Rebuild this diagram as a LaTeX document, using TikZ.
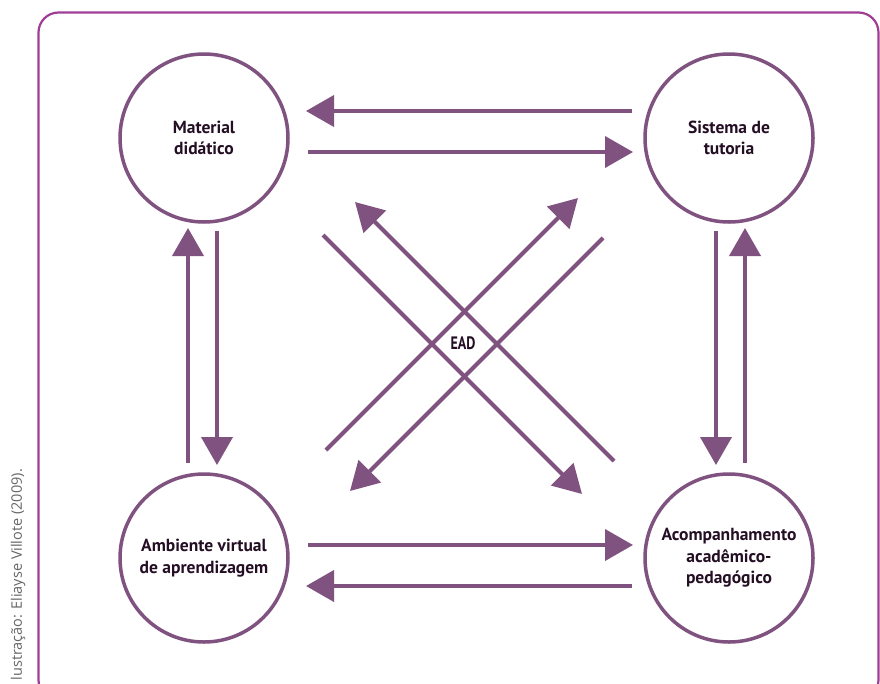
\documentclass[tikz,border=0pt]{standalone}
\usepackage{fontspec}
\setmainfont{PT Sans}
\newfontfamily\credfont{Open Sans}
\usetikzlibrary{arrows.meta}
\definecolor{purp}{RGB}{128,82,128}
\definecolor{framec}{RGB}{160,62,150}
\definecolor{txt}{RGB}{36,14,36}
\tikzset{
  hub/.style={circle, draw=purp, line width=3.5pt, minimum size=168pt, inner sep=0pt,
    align=center, text=txt, font=\bfseries\fontsize{17.5}{21.5}\selectfont},
  arr/.style={draw=purp, line width=4pt, -{Triangle[length=28pt,width=31pt]}, color=purp},
  credit/.style={text=black!60, font=\credfont\fontsize{14.5}{16}\selectfont, rotate=90, anchor=west},
}
\begin{document}
\begin{tikzpicture}[x=1pt,y=-1pt]
\useasboundingbox (0,0) rectangle (880,683);
\fill[white] (0,0) rectangle (880,683);
\draw[framec, line width=2.2pt, rounded corners=20pt] (38.5,12.5) rectangle (878.5,700);
\node[credit] (cred) at (18,684) {lustração: Eliayse Villote (2009).};

\node[hub] (md) at (204,138) {Material\\didático};
\node[hub] (st) at (729,138) {Sistema de\\tutoria};
\node[hub] (av) at (204,558) {Ambiente virtual\\de aprendizagem};
\node[hub] (ac) at (729,558) {Acompanhamento\\acadêmico-\\pedagógico};

% horizontal top
\coordinate (t1s) at (632,111); \coordinate (t1e) at (306,111);
\coordinate (t2s) at (308,152); \coordinate (t2e) at (633,152);
\draw[arr] (t1s) -- (t1e);
\draw[arr] (t2s) -- (t2e);
% horizontal bottom
\coordinate (b1s) at (308,545); \coordinate (b1e) at (633,545);
\coordinate (b2s) at (632,586); \coordinate (b2e) at (306,586);
\draw[arr] (b1s) -- (b1e);
\draw[arr] (b2s) -- (b2e);
% vertical left
\coordinate (l1s) at (188,463); \coordinate (l1e) at (188,228);
\coordinate (l2s) at (217,231); \coordinate (l2e) at (217,465);
\draw[arr] (l1s) -- (l1e);
\draw[arr] (l2s) -- (l2e);
% vertical right
\coordinate (r1s) at (716,231); \coordinate (r1e) at (716,465);
\coordinate (r2s) at (745,463); \coordinate (r2e) at (745,228);
\draw[arr] (r1s) -- (r1e);
\draw[arr] (r2s) -- (r2e);
% diagonals
\coordinate (dAs) at (323,235); \coordinate (dAe) at (582,494);
\coordinate (dBs) at (614,461); \coordinate (dBe) at (355,202);
\coordinate (dCs) at (326,450); \coordinate (dCe) at (578,198);
\coordinate (dDs) at (603,238); \coordinate (dDe) at (350,491);
\draw[arr] (dAs) -- (dAe);
\draw[arr] (dBs) -- (dBe);
\draw[arr] (dCs) -- (dCe);
\draw[arr] (dDs) -- (dDe);

\node[text=txt, font=\bfseries\fontsize{18}{20}\selectfont] (ead) at (463,343) {\scalebox{0.78}[1]{EAD}};
\end{tikzpicture}
\end{document}
